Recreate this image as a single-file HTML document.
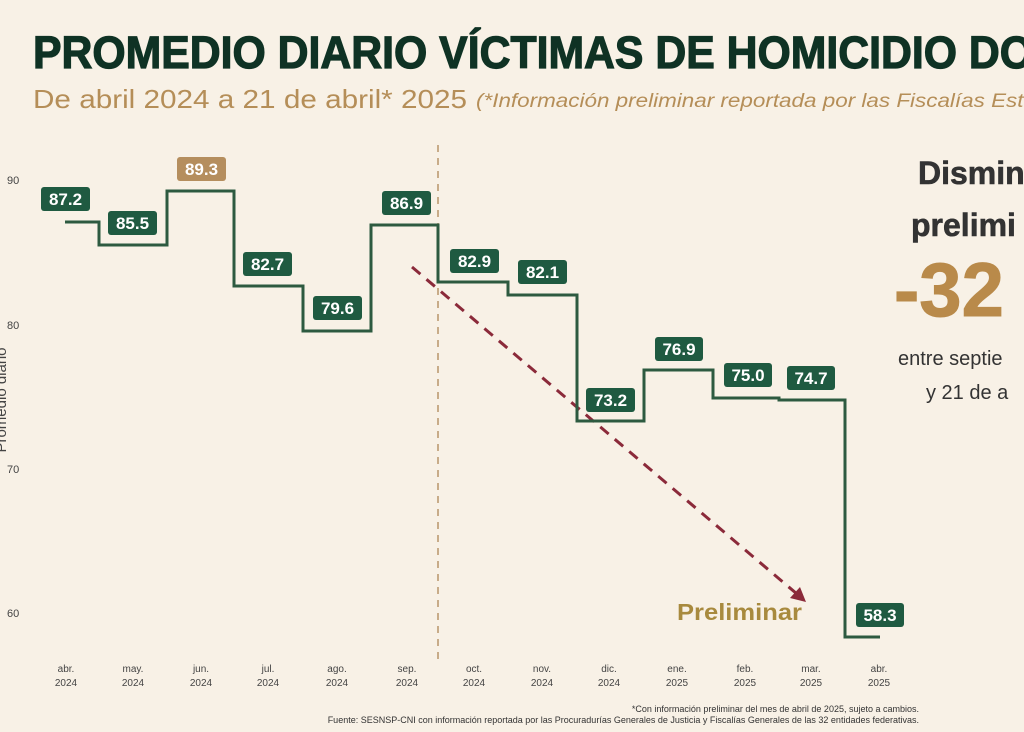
<!DOCTYPE html>
<html><head><meta charset="utf-8"><style>
html,body{margin:0;padding:0;background:#f8f1e6;}
svg{display:block;font-family:"Liberation Sans",sans-serif;}
</style></head><body>
<svg width="1024" height="732" viewBox="0 0 1024 732" xmlns="http://www.w3.org/2000/svg">
<rect width="1024" height="732" fill="#f8f1e6"/>
<text x="33" y="68" font-size="45" font-weight="bold" fill="#0f3224" stroke="#0f3224" stroke-width="1.2" textLength="1000" lengthAdjust="spacingAndGlyphs">PROMEDIO DIARIO VÍCTIMAS DE HOMICIDIO DO</text>
<text x="33" y="108" font-size="26" fill="#b58e58" textLength="434" lengthAdjust="spacingAndGlyphs">De abril 2024 a 21 de abril* 2025</text>
<text x="476" y="107" font-size="19" font-style="italic" fill="#b58e58" textLength="560" lengthAdjust="spacingAndGlyphs">(*Información preliminar reportada por las Fiscalías Esta</text>
<g font-size="11" fill="#444">
<text x="7" y="184">90</text><text x="7" y="329">80</text><text x="7" y="473">70</text><text x="7" y="617">60</text>
</g>
<text transform="translate(6,400) rotate(-90)" font-size="15" fill="#444" text-anchor="middle">Promedio diario</text>
<line x1="438" y1="145" x2="438" y2="662" stroke="#b8956a" stroke-width="1.5" stroke-dasharray="7,6"/>
<line x1="412" y1="267" x2="797" y2="594" stroke="#8b2a3a" stroke-width="3" stroke-dasharray="11,8"/>
<polygon points="806,602 790,598 800,587" fill="#8b2a3a"/>
<polyline fill="none" stroke="#2d5a40" stroke-width="3" points="65,222 99,222 99,245 167,245 167,191 234,191 234,286 303,286 303,331 371,331 371,225 438,225 438,282 508,282 508,295 577,295 577,421 644,421 644,370 713,370 713,398 779,398 779,400 845,400 845,637 880,637"/>
<g font-size="17" font-weight="bold" fill="#fff" text-anchor="middle">
<rect x="41" y="187" width="49" height="24" rx="3" fill="#1f5a41"/><text x="65.5" y="205">87.2</text>
<rect x="108" y="211" width="49" height="24" rx="3" fill="#1f5a41"/><text x="132.5" y="229">85.5</text>
<rect x="177" y="157" width="49" height="24" rx="3" fill="#b58e5e"/><text x="201.5" y="175">89.3</text>
<rect x="243" y="252" width="49" height="24" rx="3" fill="#1f5a41"/><text x="267.5" y="270">82.7</text>
<rect x="313" y="296" width="49" height="24" rx="3" fill="#1f5a41"/><text x="337.5" y="314">79.6</text>
<rect x="382" y="191" width="49" height="24" rx="3" fill="#1f5a41"/><text x="406.5" y="209">86.9</text>
<rect x="450" y="249" width="49" height="24" rx="3" fill="#1f5a41"/><text x="474.5" y="267">82.9</text>
<rect x="518" y="260" width="49" height="24" rx="3" fill="#1f5a41"/><text x="542.5" y="278">82.1</text>
<rect x="586" y="388" width="49" height="24" rx="3" fill="#1f5a41"/><text x="610.5" y="406">73.2</text>
<rect x="655" y="337" width="48" height="24" rx="3" fill="#1f5a41"/><text x="679" y="355">76.9</text>
<rect x="724" y="363" width="48" height="24" rx="3" fill="#1f5a41"/><text x="748" y="381">75.0</text>
<rect x="787" y="366" width="48" height="24" rx="3" fill="#1f5a41"/><text x="811" y="384">74.7</text>
<rect x="856" y="603" width="48" height="24" rx="3" fill="#1f5a41"/><text x="880" y="621">58.3</text>
</g>
<text x="677" y="620" font-size="23" font-weight="bold" fill="#a88a3e" textLength="125" lengthAdjust="spacingAndGlyphs">Preliminar</text>
<g font-size="10" fill="#444" text-anchor="middle">
<text x="66" y="672">abr.</text><text x="66" y="686">2024</text>
<text x="133" y="672">may.</text><text x="133" y="686">2024</text>
<text x="201" y="672">jun.</text><text x="201" y="686">2024</text>
<text x="268" y="672">jul.</text><text x="268" y="686">2024</text>
<text x="337" y="672">ago.</text><text x="337" y="686">2024</text>
<text x="407" y="672">sep.</text><text x="407" y="686">2024</text>
<text x="474" y="672">oct.</text><text x="474" y="686">2024</text>
<text x="542" y="672">nov.</text><text x="542" y="686">2024</text>
<text x="609" y="672">dic.</text><text x="609" y="686">2024</text>
<text x="677" y="672">ene.</text><text x="677" y="686">2025</text>
<text x="745" y="672">feb.</text><text x="745" y="686">2025</text>
<text x="811" y="672">mar.</text><text x="811" y="686">2025</text>
<text x="879" y="672">abr.</text><text x="879" y="686">2025</text>
</g>
<g font-size="9" fill="#333" text-anchor="end">
<text x="919" y="712">*Con información preliminar del mes de abril de 2025, sujeto a cambios.</text>
<text x="919" y="723">Fuente: SESNSP-CNI con información reportada por las Procuradurías Generales de Justicia y Fiscalías Generales de las 32 entidades federativas.</text>
</g>
<text x="918" y="184" font-size="32" font-weight="bold" fill="#333" stroke="#333" stroke-width="0.6">Dismin</text>
<text x="911" y="236" font-size="32" font-weight="bold" fill="#333" stroke="#333" stroke-width="0.6">prelimi</text>
<text x="894" y="316" font-size="76" font-weight="bold" fill="#b98a4a" stroke="#b98a4a" stroke-width="1">-32</text>
<text x="898" y="365" font-size="20" fill="#333">entre septie</text>
<text x="926" y="399" font-size="20" fill="#333">y 21 de a</text>
</svg>
</body></html>
